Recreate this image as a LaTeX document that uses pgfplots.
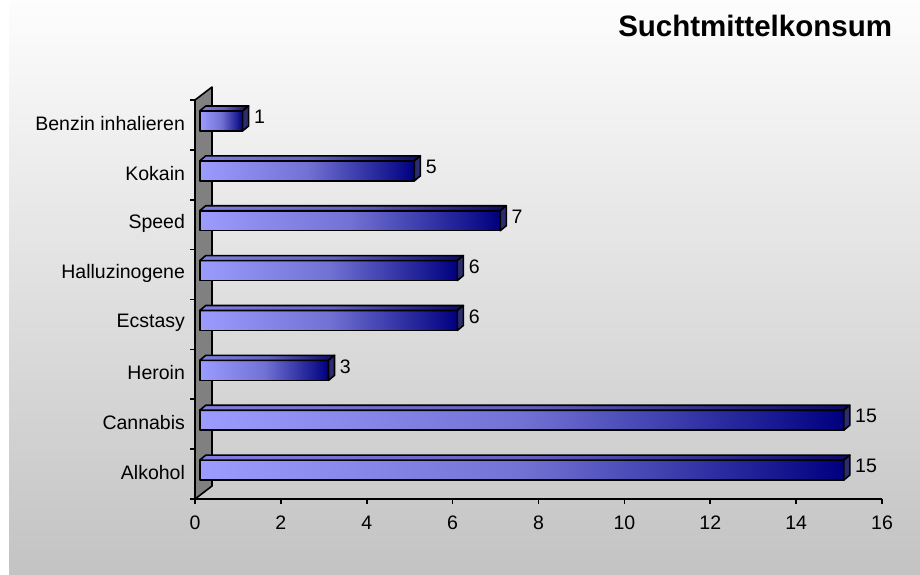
\documentclass[border=0pt]{standalone}
\usepackage{pgfplots}
\pgfplotsset{compat=1.18}
\usepackage{fontspec}
\setmainfont{Liberation Sans}

\definecolor{faceL}{HTML}{9C9CFF}
\definecolor{faceM}{HTML}{7272D4}
\definecolor{faceR}{HTML}{000080}
\definecolor{topL}{HTML}{8080E2}
\definecolor{topM}{HTML}{6262C0}
\definecolor{topR}{HTML}{0A0A66}
\definecolor{sideC}{HTML}{2C2C70}
\definecolor{wallC}{HTML}{808080}
\definecolor{bgTop}{HTML}{FDFDFD}
\definecolor{bgBot}{HTML}{C3C3C3}

\tikzset{
  frontface/.style={draw=black, line width=0.8pt, line join=round, left color=faceL, right color=faceR, middle color=faceM},
  topface/.style={draw=black, line width=0.8pt, line join=round, left color=topL, right color=topR, middle color=topM},
  sideface/.style={draw=black, line width=0.8pt, line join=round, fill=sideC},
  valuelabel/.style={anchor=west, inner sep=0pt, xshift=2.5pt, font=\fontsize{9.75}{12}\selectfont},
}

% bar geometry in axis units: front-face offset, depth offset, half height
\def\fx{0.11}
\def\fy{0.08}
\def\dx{0.14}
\def\dy{0.10}
\def\hw{0.2}

% #1 = category position, #2 = value
\newcommand\drawbar[2]{%
  \pgfmathsetmacro\xa{\fx}%
  \pgfmathsetmacro\xb{#2+\fx}%
  \pgfmathsetmacro\xc{#2+\fx+\dx}%
  \pgfmathsetmacro\xd{\fx+\dx}%
  \pgfmathsetmacro\ya{#1+\fy-\hw}%
  \pgfmathsetmacro\yb{#1+\fy+\hw}%
  \pgfmathsetmacro\yc{#1+\fy-\hw+\dy}%
  \pgfmathsetmacro\yd{#1+\fy+\hw+\dy}%
  \pgfmathsetmacro\yl{#1+0.16}%
  \edef\barcmd{%
    \noexpand\addplot[frontface, forget plot] coordinates {(\xa,\ya) (\xb,\ya) (\xb,\yb) (\xa,\yb)} -- cycle;
    \noexpand\addplot[topface, forget plot] coordinates {(\xa,\yb) (\xb,\yb) (\xc,\yd) (\xd,\yd)} -- cycle;
    \noexpand\addplot[sideface, forget plot] coordinates {(\xb,\ya) (\xc,\yc) (\xc,\yd) (\xb,\yb)} -- cycle;
    \noexpand\node[valuelabel] at (axis cs:\xc,\yl) {#2};
  }%
  \barcmd
}

\begin{document}
\begin{tikzpicture}
  \useasboundingbox (0,0) rectangle (460pt,287pt);
  \fill[white] (0,0) rectangle (460pt,287pt);
  \shade[top color=bgTop, bottom color=bgBot] (4.5pt,0) rectangle (460pt,287pt);
  \node[font=\bfseries\fontsize{14.75}{17}\selectfont, anchor=base east, inner sep=0pt]
    at (446.2pt,268.5pt) {Suchtmittelkonsum};

  \begin{axis}[
    at={(97.5pt,37.5pt)}, anchor=south west,
    scale only axis, width=343.5pt, height=199.5pt,
    xmin=0, xmax=16, ymin=-0.5, ymax=7.5,
    clip=false,
    axis x line*=bottom, axis y line*=left,
    axis line style={black, line width=0.8pt, -},
    xtick={0,2,...,16},
    ytick={-0.5,0.5,...,7.5},
    yticklabels={},
    extra y ticks={0,1,2,3,4,5,6,7},
    extra y tick labels={Alkohol,Cannabis,Heroin,Ecstasy,Halluzinogene,Speed,Kokain,Benzin inhalieren},
    extra y tick style={major tick length=0pt, tick style={draw=none}},
    tick align=outside,
    major tick length=2.5pt,
    tick style={black, line width=0.8pt},
    ticklabel style={font=\fontsize{9.75}{12}\selectfont},
    xticklabel style={yshift=-2.5pt},
    yticklabel style={xshift=-1.5pt, yshift=0.75pt},
    /pgf/number format/assume math mode=true,
  ]
    % side wall
    \addplot[fill=wallC, draw=black, line width=0.8pt, line join=round, forget plot]
      coordinates {(0,-0.5) (0.396,-0.24) (0.396,7.76) (0,7.5)} -- cycle;

    \drawbar{0}{15}% Alkohol
    \drawbar{1}{15}% Cannabis
    \drawbar{2}{3}%  Heroin
    \drawbar{3}{6}%  Ecstasy
    \drawbar{4}{6}%  Halluzinogene
    \drawbar{5}{7}%  Speed
    \drawbar{6}{5}%  Kokain
    \drawbar{7}{1}%  Benzin inhalieren
  \end{axis}
\end{tikzpicture}
\end{document}
